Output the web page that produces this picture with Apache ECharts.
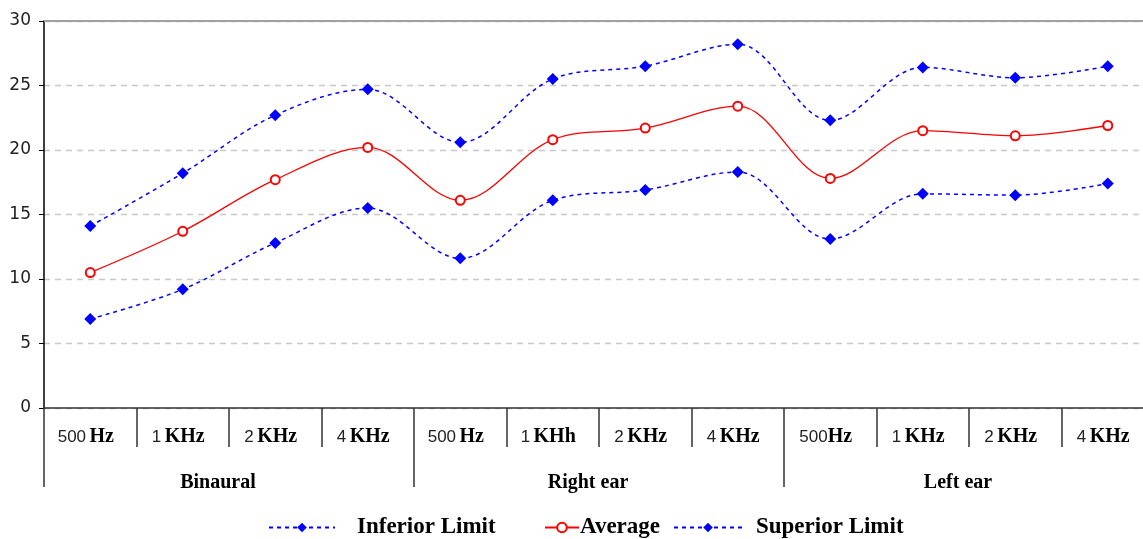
<!DOCTYPE html>
<html>
<head>
<meta charset="utf-8">
<script src="https://cdn.jsdelivr.net/npm/echarts@6/dist/echarts.min.js"></script>
<style>
  html, body { margin: 0; padding: 0; background: #fff; }
  #main { width: 1143px; height: 539px; }
</style>
</head>
<body>
<div id="main"></div>
<script>
var freqLabels = ['500 Hz', '1 KHz', '2 KHz', '4 KHz', '500 Hz', '1 KHh', '2 KHz', '4 KHz', '500Hz', '1 KHz', '2 KHz', '4 KHz'];
var groupLabels = ['Binaural', 'Right ear', 'Left ear'];
var yTicks = [0, 5, 10, 15, 20, 25, 30];

var inferior = [6.9, 9.2, 12.8, 15.5, 11.6, 16.1, 16.9, 18.3, 13.1, 16.6, 16.5, 17.4];
var average  = [10.5, 13.7, 17.7, 20.2, 16.1, 20.8, 21.7, 23.4, 17.8, 21.5, 21.1, 21.9];
var superior = [14.1, 18.2, 22.7, 24.7, 20.6, 25.5, 26.5, 28.2, 22.3, 26.4, 25.6, 26.5];

var chart = echarts.init(document.getElementById('main'));

var boldSerif = 'Liberation Serif';

function freqFmt(v) {
  var m = v.match(/^(\d+)(\s?)(.*)$/);
  if (!m) return v;
  return '{n|' + m[1] + '}' + (m[2] ? ' ' : '') + '{u|' + m[3] + '}';
}

function legendOf(name, left, iconW, gap) {
  return {
    data: [name],
    left: left,
    top: 511,
    itemWidth: iconW,
    itemHeight: 12,
    itemGap: 0,
    textStyle: {
      fontFamily: boldSerif,
      fontWeight: 'bold',
      fontSize: 23,
      color: '#000',
      padding: [0, 0, 0, gap]
    }
  };
}

var blueLine = {
  type: 'line',
  smooth: 0.35,
  symbol: 'diamond',
  symbolSize: 12,
  itemStyle: { color: '#0000ff' },
  lineStyle: { color: '#0000ff', width: 1.5, type: [4, 4] }
};

chart.setOption({
  backgroundColor: '#fff',
  animation: false,
  legend: [
    legendOf('Inferior Limit', 263, 66, 17),
    legendOf('Average', 539, 34, -4),
    legendOf('Superior Limit', 668, 68, 9)
  ],
  grid: { left: 44, top: 21, width: 1110, bottom: 131, containLabel: false, outerBoundsMode: 'none' },
  xAxis: [
    {
      type: 'category',
      data: freqLabels,
      position: 'bottom',
      boundaryGap: true,
      axisLine: { show: true, lineStyle: { color: '#333', width: 1.5 } },
      axisTick: { show: true, length: 39, interval: 0, lineStyle: { color: '#333', width: 1.5 } },
      axisLabel: {
        interval: 0,
        margin: 19,
        padding: [0, 9, 0, 0],
        formatter: freqFmt,
        rich: {
          n: { fontFamily: 'Liberation Sans', fontSize: 17, color: '#222' },
          u: { fontFamily: boldSerif, fontWeight: 'bold', fontSize: 20, color: '#000' }
        }
      },
      splitLine: { show: false }
    },
    {
      type: 'category',
      data: groupLabels,
      position: 'bottom',
      boundaryGap: true,
      axisLine: { show: false },
      axisTick: { show: true, length: 79, interval: 0, lineStyle: { color: '#333', width: 1.5 } },
      axisLabel: {
        interval: 0,
        margin: 65,
        padding: [0, 22, 0, 0],
        fontFamily: boldSerif,
        fontWeight: 'bold',
        fontSize: 20,
        color: '#000'
      },
      splitLine: { show: false }
    },
    {
      type: 'category',
      data: freqLabels,
      position: 'top',
      axisLine: { show: true, lineStyle: { color: '#a0a0a0', width: 2 } },
      axisTick: { show: false },
      axisLabel: { show: false }
    }
  ],
  yAxis: {
    type: 'value',
    min: yTicks[0],
    max: yTicks[yTicks.length - 1],
    interval: 5,
    axisLine: { show: true, lineStyle: { color: '#000', width: 1.5 } },
    axisTick: { show: true, length: 5, lineStyle: { color: '#000' } },
    axisLabel: {
      margin: 13,
      fontFamily: 'DejaVu Sans',
      fontSize: 17,
      color: '#222'
    },
    splitLine: { show: true, lineStyle: { color: '#c8c8c8', type: [6, 5], width: 1.3 } }
  },
  series: [
    Object.assign({ name: 'Inferior Limit', data: inferior, z: 3 }, blueLine),
    {
      name: 'Average',
      type: 'line',
      data: average,
      smooth: 0.35,
      symbol: 'emptyCircle',
      symbolSize: 9,
      itemStyle: { color: '#ff0000', borderWidth: 1.3 },
      lineStyle: { color: '#ff0000', width: 1.3 },
      z: 4
    },
    Object.assign({ name: 'Superior Limit', data: superior, z: 3 }, blueLine)
  ]
});
</script>
</body>
</html>
